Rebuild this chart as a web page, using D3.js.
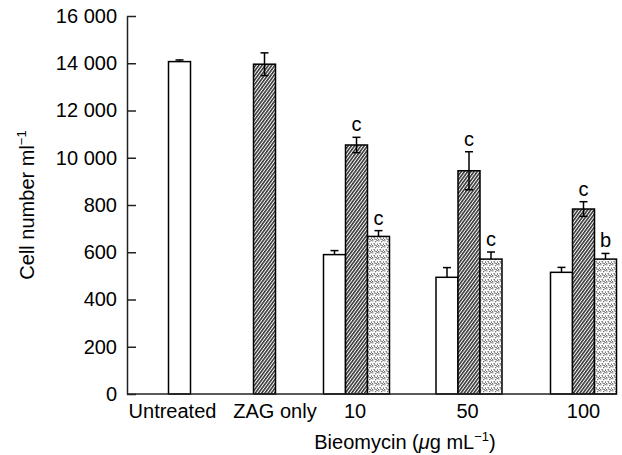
<!DOCTYPE html>
<html><head><meta charset="utf-8">
<script src="https://cdn.jsdelivr.net/npm/d3@7"></script>
<style>body{margin:0;background:#fff}svg{display:block}text{font-family:"Liberation Sans",Arial,sans-serif;fill:#000}</style>
</head><body><svg id="c" width="622" height="455"></svg>
<script>
// ---- data ----
const categories = ["Untreated", "ZAG only", "10", "50", "100"];
const whiteValues   = [14070, null, 5900, 4940, 5150];
const whiteErrors   = [70, null, 170, 410, 210];
const hatchedValues = [null, 13960, 10540, 9450, 7830];
const hatchedErrors = [null, 480, 325, 805, 310];
const dottedValues  = [null, null, 6670, 5710, 5710];
const dottedErrors  = [null, null, 245, 300, 240];
const hatchedLetters = [null, null, "c", "c", "c"];
const dottedLetters  = [null, null, "c", "c", "b"];
const yTickValues = [0, 2000, 4000, 6000, 8000, 10000, 12000, 14000, 16000];
const yTickLabels = ["0", "200", "400", "600", "800", "10 000", "12 000", "14 000", "16 000"];
const yAxisTitle = "Cell number ml";
const xAxisTitle = "Bieomycin (";

// ---- layout ----
const axisX = 127, yBottom = 394, yTopPx = 16;
const bw = 22;
const catLeft = d3.scaleOrdinal(categories, [168.5, 253.5, 323.5, 436, 550.5]);
const labelShift = d3.scaleOrdinal(categories, [-7, 10.5, -1.5, -1.5, 0]);
const y = d3.scaleLinear().domain([0, 16000]).range([yBottom, yTopPx]);

const svg = d3.select("#c");
const defs = svg.append("defs");
const hp = defs.append("pattern").attr("id", "hatch").attr("patternUnits", "userSpaceOnUse")
  .attr("width", 2.6).attr("height", 10).attr("patternTransform", "rotate(36)");
hp.append("rect").attr("width", 2.6).attr("height", 10).attr("fill", "#fff");
hp.append("line").attr("x1", 0.8).attr("x2", 0.8).attr("y1", 0).attr("y2", 10)
  .attr("stroke", "#000").attr("stroke-width", 1.25);
const dp = defs.append("pattern").attr("id", "dots").attr("patternUnits", "userSpaceOnUse")
  .attr("width", 6).attr("height", 6);
dp.append("rect").attr("width", 6).attr("height", 6).attr("fill", "#fff");
[[0.4,0.4],[3.2,1.2],[5,3.6],[1.6,3.1],[3.6,5],[0.2,5.2],[4.6,0.1],[2.3,4.4]].forEach(p =>
  dp.append("rect").attr("x", p[0]).attr("y", p[1]).attr("width", 1).attr("height", 1).attr("fill", "#222"));

// build bars
const series = [
  {vals: whiteValues, errs: whiteErrors, fill: "#fff", letters: null, lower: false},
  {vals: hatchedValues, errs: hatchedErrors, fill: "url(#hatch)", letters: hatchedLetters, lower: true},
  {vals: dottedValues, errs: dottedErrors, fill: "url(#dots)", letters: dottedLetters, lower: false}
];
const bars = [];
const groupExtent = {};
categories.forEach((c, i) => {
  let k = 0;
  series.forEach(s => {
    if (s.vals[i] == null) return;
    const x0 = catLeft(c) + k * bw;
    bars.push({cat: c, x: x0, v: s.vals[i], e: s.errs[i], fill: s.fill, lower: s.lower,
               letter: s.letters ? s.letters[i] : null});
    k++;
  });
  groupExtent[c] = [catLeft(c), catLeft(c) + k * bw];
});

const g = svg.append("g");
g.selectAll("rect.bar").data(bars).join("rect").attr("class", "bar")
  .attr("x", d => d.x).attr("width", bw)
  .attr("y", d => y(d.v)).attr("height", d => y(0) - y(d.v))
  .attr("fill", d => d.fill).attr("stroke", "#000").attr("stroke-width", 1.5);

// error bars
const eb = g.selectAll("g.err").data(bars).join("g").attr("class", "err")
  .attr("stroke", "#000").attr("stroke-width", 1.5);
eb.append("line").attr("x1", d => d.x + bw / 2).attr("x2", d => d.x + bw / 2)
  .attr("y1", d => y(d.lower ? d.v - d.e : d.v)).attr("y2", d => y(d.v + d.e));
eb.append("line").attr("x1", d => d.x + bw / 2 - 4).attr("x2", d => d.x + bw / 2 + 4)
  .attr("y1", d => y(d.v + d.e)).attr("y2", d => y(d.v + d.e));
eb.filter(d => d.lower).append("line").attr("x1", d => d.x + bw / 2 - 4).attr("x2", d => d.x + bw / 2 + 4)
  .attr("y1", d => y(d.v - d.e)).attr("y2", d => y(d.v - d.e));

// letters
g.selectAll("text.let").data(bars.filter(d => d.letter)).join("text").attr("class", "let")
  .attr("x", d => d.x + bw / 2).attr("y", d => y(d.v + d.e) - 6)
  .attr("text-anchor", "middle").attr("font-size", 20).text(d => d.letter);

// y axis
const yAxis = d3.axisLeft(y).tickValues(yTickValues).tickFormat((d, i) => yTickLabels[i])
  .tickSizeInner(-9).tickSizeOuter(0).tickPadding(10);
const ya = svg.append("g").attr("transform", `translate(${axisX},0)`).call(yAxis);
ya.select(".domain").attr("stroke", "#222").attr("stroke-width", 1.5);
ya.selectAll(".tick line").attr("stroke", "#222").attr("stroke-width", 1.5);
ya.selectAll(".tick text").attr("font-size", 20).attr("font-family", '"Liberation Sans",Arial,sans-serif').attr("fill", "#000");

// x axis line
const xEnd = d3.max(bars, d => d.x + bw);
svg.append("line").attr("x1", axisX).attr("x2", xEnd).attr("y1", y(0)).attr("y2", y(0))
  .attr("stroke", "#222").attr("stroke-width", 1.5);

// category labels
svg.selectAll("text.cat").data(categories).join("text").attr("class", "cat")
  .attr("x", c => (groupExtent[c][0] + groupExtent[c][1]) / 2 + labelShift(c))
  .attr("y", 418).attr("text-anchor", "middle").attr("font-size", 20).text(c => c);

// y title
const yt = svg.append("text").attr("transform", "translate(34,205) rotate(-90)")
  .attr("text-anchor", "middle").attr("font-size", 20);
yt.append("tspan").text(yAxisTitle);
yt.append("tspan").attr("dy", -8).attr("font-size", 13).text("\u22121");

// x title
const xt = svg.append("text").attr("x", 405).attr("y", 449).attr("text-anchor", "middle").attr("font-size", 20);
xt.append("tspan").text(xAxisTitle);
xt.append("tspan").attr("font-style", "italic").text("\u03bc");
xt.append("tspan").text("g mL");
xt.append("tspan").attr("dy", -8).attr("font-size", 13).text("\u22121");
xt.append("tspan").attr("dy", 8).text(")");
</script></body></html>
